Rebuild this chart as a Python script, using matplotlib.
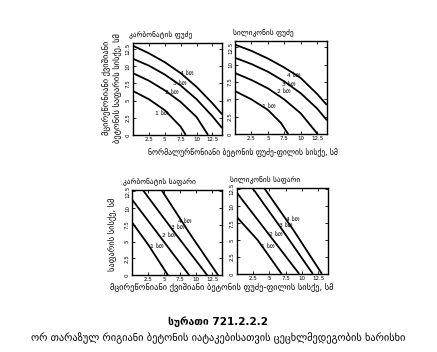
import matplotlib.pyplot as plt

plt.rcParams['font.family'] = ['DejaVu Sans']

# --- data ---
x_ticks = [2.5, 5, 7.5, 10, 12.5]
x_tick_labels = ["2.5", "5", "7.5", "10", "12.5"]
y_ticks = [0, 2.5, 5, 7.5, 10, 12.5]
y_tick_labels = ["0", "2.5", "5", "7.5", "10", "12.5"]

curve_names = ["1 სთ", "2 სთ", "3 სთ", "4 სთ"]

# კარბონატის ფუძე
tl_x = [[0, 2.5, 5, 7.5, 8.3],
        [0, 2.5, 5, 7.5, 10, 11.8],
        [0, 2.5, 5, 7.5, 10, 12.5, 14],
        [0, 2.5, 5, 7.5, 10, 12.5, 14]]
tl_y = [[6.4, 5.2, 3.6, 1.2, 0],
        [9.0, 7.9, 6.5, 4.8, 2.6, 0],
        [11.1, 10.1, 8.8, 7.2, 5.2, 2.7, 1.0],
        [13.0, 11.9, 10.6, 9.0, 7.0, 4.6, 3.0]]
tl_lab = [(4.6, 3.2), (6.1, 6.2), (7.4, 7.5), (8.5, 9.0)]

# სილიკონის ფუძე
tr_x = [[0, 2.5, 5, 7, 8.1],
        [0, 2.5, 5, 7.5, 10, 12.6],
        [0, 2.5, 5, 7.5, 10, 12.5, 14],
        [0, 2.5, 5, 7.5, 10, 12.5, 14]]
tr_y = [[6.2, 5.0, 3.5, 1.6, 0],
        [8.8, 7.8, 6.6, 5.0, 3.0, 0],
        [11.0, 10.1, 9.0, 7.6, 5.9, 3.7, 2.0],
        [12.9, 12.0, 10.9, 9.6, 8.1, 5.8, 4.2]]
tr_lab = [(5.1, 4.0), (7.4, 6.1), (8.2, 7.2), (8.9, 8.5)]

# კარბონატის საფარი
bl_x = [[0, 2.5, 5.6],
        [0, 4.5, 8.9],
        [1.7, 6.6, 11.7],
        [4.6, 9.0, 13.4]]
bl_y = [[7.9, 4.6, 0],
        [11.3, 5.6, 0],
        [12.7, 6.4, 0],
        [12.7, 6.2, 0]]
bl_lab = [(3.8, 4.3), (5.8, 5.9), (7.1, 7.1), (8.2, 8.1)]

# სილიკონის საფარი
br_x = [[0, 3.2, 6.9],
        [0, 4.8, 9.6],
        [2.4, 7.0, 11.7],
        [4.2, 8.7, 13.1]]
br_y = [[8.4, 5.0, 0],
        [12.0, 6.0, 0],
        [12.7, 6.5, 0],
        [12.7, 6.5, 0]]
br_lab = [(4.8, 4.1), (6.0, 5.9), (7.6, 7.2), (8.6, 8.1)]


def panel(rect, xs, ys, labs, title, ytop):
    ax = fig.add_axes(rect)
    for cx, cy, (lx, ly), name in zip(xs, ys, labs, curve_names):
        ax.plot(cx, cy, color="black", lw=1.3, solid_capstyle="butt")
        ax.text(lx, ly, name, fontsize=4.3, ha="center", va="center")
    ax.set_xlim(0, 14)
    ax.set_ylim(0, ytop)
    ax.set_xticks(x_ticks)
    ax.set_xticklabels(x_tick_labels, fontsize=4)
    ax.set_yticks(y_ticks)
    ax.set_yticklabels(y_tick_labels, fontsize=4, rotation=90, va="center")
    ax.tick_params(direction="in", length=2, width=0.6, top=True, right=True, pad=1.5)
    for s in ax.spines.values():
        s.set_linewidth(1.0)
    ax.text(0.31, 1.1, title, transform=ax.transAxes, fontsize=5.3,
            ha="center", va="center")
    return ax


fig = plt.figure(figsize=(4.37, 3.52), dpi=100)

ax1 = panel([0.304, 0.617, 0.204, 0.261], tl_x, tl_y, tl_lab, "კარბონატის ფუძე", 13.4)
ax2 = panel([0.538, 0.619, 0.210, 0.264], tr_x, tr_y, tr_lab, "სილიკონის ფუძე", 13.4)
ax3 = panel([0.302, 0.218, 0.206, 0.242], bl_x, bl_y, bl_lab, "კარბონატის საფარი", 12.7)
ax4 = panel([0.542, 0.222, 0.208, 0.244], br_x, br_y, br_lab, "სილიკონის საფარი", 12.7)

fig.text(0.256, 0.75, "მცირეწონიანი ქვიშიანი\nბეტონის საფარის სისქე, სმ",
         rotation=90, fontsize=6, ha="center", va="center", linespacing=1.25)
fig.text(0.258, 0.335, "საფარის სისქე, სმ", rotation=90, fontsize=6,
         ha="center", va="center")
fig.text(0.555, 0.568, "ნორმალურწონიანი ბეტონის ფუძე-ფილის სისქე, სმ",
         fontsize=5.5, ha="center", va="center")
fig.text(0.508, 0.182, "მცირეწონიანი ქვიშიანი ბეტონის ფუძე-ფილის სისქე, სმ",
         fontsize=6, ha="center", va="center")

fig.text(0.5, 0.085, "სურათი 721.2.2.2", fontsize=7.5, fontweight="bold",
         ha="center", va="center")
fig.text(0.5, 0.038, "ორ თარაზულ რიგიანი ბეტონის იატაკებისათვის ცეცხლმედეგობის ხარისხი",
         fontsize=7.5, ha="center", va="center")

fig.savefig("out.png", dpi=100)
